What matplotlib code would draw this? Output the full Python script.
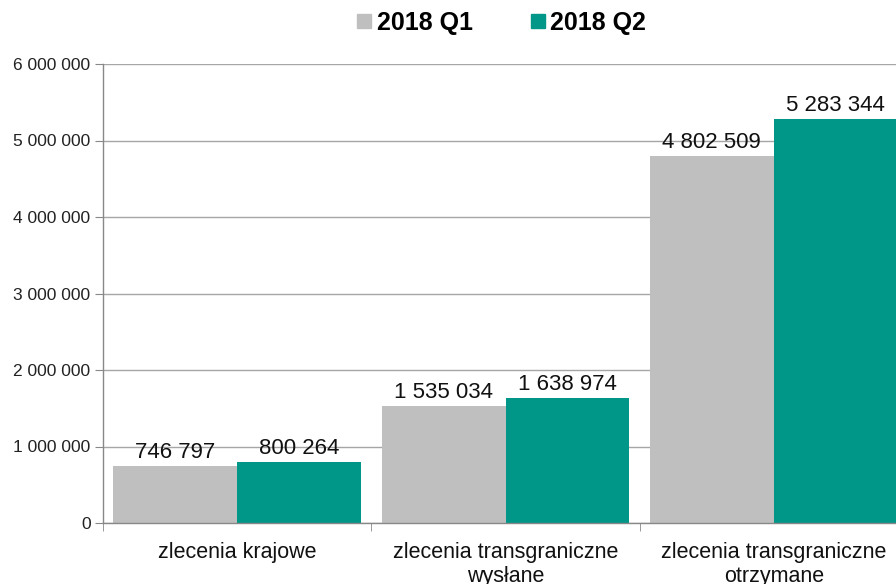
import matplotlib
matplotlib.use("Agg")
import matplotlib.pyplot as plt
from matplotlib.lines import Line2D
from matplotlib.ticker import FuncFormatter
import numpy as np

# Data
categories = ["zlecenia krajowe", "zlecenia transgraniczne\nwysłane", "zlecenia transgraniczne\notrzymane"]
series_names = ["2018 Q1", "2018 Q2"]
q1_values = [746797, 1535034, 4802509]
q2_values = [800264, 1638974, 5283344]
y_ticks = [0, 1000000, 2000000, 3000000, 4000000, 5000000, 6000000]

colors = ["#bfbfbf", "#009688"]

plt.rcParams['font.family'] = ['Liberation Sans', 'DejaVu Sans']


def fmt_space(v, pos=None):
	return f"{int(round(v)):,}".replace(",", " ")


def main():
	fig = plt.figure(figsize=(8.96, 5.84), dpi=100)
	# axes run a bit past the right edge, like in the original
	ax = fig.add_axes([103 / 896, 1 - 523 / 584, 805 / 896, 459 / 584])

	x = np.arange(len(categories))
	w = 0.462
	series = [q1_values, q2_values]
	for i, vals in enumerate(series):
		bars = ax.bar(x + (i - 0.5) * w, vals, width=w, color=colors[i], zorder=2)
		for b, v in zip(bars, vals):
			ax.annotate(fmt_space(v), (b.get_x() + b.get_width() / 2, v),
				xytext=(0, 2), textcoords="offset points", ha="center", va="bottom",
				fontsize=16, color="#111111", zorder=3)

	ax.set_xlim(-0.5, len(categories) - 0.5)
	ax.set_ylim(0, 6000000)
	ax.set_yticks(y_ticks)
	ax.yaxis.set_major_formatter(FuncFormatter(fmt_space))
	ax.tick_params(axis="y", labelsize=12.5, length=6, color="#888888", pad=3, labelcolor="#222222")

	ax.set_xticks(x)
	ax.set_xticklabels(categories, fontsize=15.5, linespacing=1.15, color="#111111")
	ax.set_xticks(np.arange(len(categories) + 1) - 0.5, minor=True)
	ax.tick_params(axis="x", which="major", length=0, pad=14)
	ax.tick_params(axis="x", which="minor", length=6, color="#888888")

	ax.grid(axis="y", color="#a6a6a6", linewidth=1.0, zorder=0)
	for s in ["top", "right"]:
		ax.spines[s].set_visible(False)
	for s in ["left", "bottom"]:
		ax.spines[s].set_color("#888888")
		ax.spines[s].set_linewidth(1.0)

	handles = [Line2D([], [], marker="s", linestyle="none", markersize=10,
		markerfacecolor=c, markeredgecolor=c) for c in colors]
	fig.legend(handles, series_names, loc="center", bbox_to_anchor=(500 / 896, 1 - 23 / 584),
		ncol=2, frameon=False, handletextpad=0.1, columnspacing=2.2, handlelength=0.8,
		prop={"weight": "bold", "size": 18})

	plt.savefig("out.png", dpi=100)


if __name__ == "__main__":
	main()
